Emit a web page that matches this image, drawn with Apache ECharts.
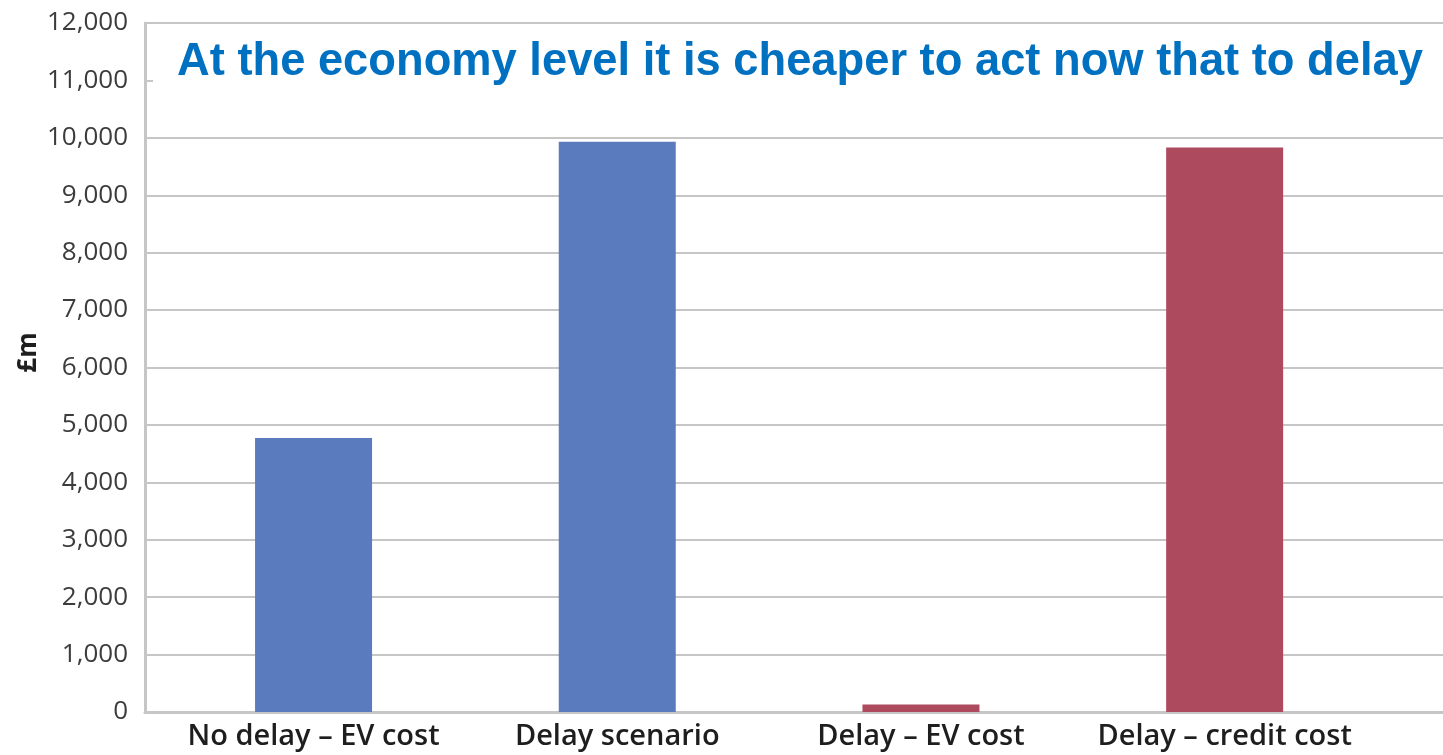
<!DOCTYPE html>
<html>
<head>
<meta charset="utf-8">
<script src="https://cdn.jsdelivr.net/npm/echarts@6/dist/echarts.min.js"></script>
<style>
  html, body { margin: 0; padding: 0; background: #fff; }
  #chart { width: 1443px; height: 755px; }
</style>
</head>
<body>
<div id="chart"></div>
<script>
const categories = ['No delay – EV cost', 'Delay scenario', 'Delay – EV cost', 'Delay – credit cost']
const costValues = [4770, 9930, 130, 9830]
const barColors = ['#5A7BBD', '#5A7BBD', '#AE4A5E', '#AE4A5E']
const yTicks = { min: 0, max: 12000, interval: 1000 }
const titleText = 'At the economy level it is cheaper to act now that to delay'

const chart = echarts.init(document.getElementById('chart'))
const gridLine = '#C6C6C6'

const option = {
  animation: false,
  backgroundColor: '#fff',
  title: {
    text: titleText,
    left: 150,
    top: 30,
    padding: [10, 30, 10, 27],
    z: 10,
    textStyle: {
      fontFamily: 'Liberation Sans',
      fontWeight: 'bold',
      fontSize: 45.3,
      color: '#0070C0',
    },
  },
  // white box behind the title, hides the 11,000 gridline like the original
  graphic: [
    {
      type: 'rect',
      left: 153,
      top: 30,
      z: 5,
      shape: { width: 1290, height: 65 },
      style: { fill: '#fff' },
    },
  ],
  grid: [
    // frame with gridlines (spans the whole cropped width)
    { left: 145, right: 0, top: 23, bottom: 43 },
    // band area for the bars
    { left: 161.7, right: 66.5, top: 23, bottom: 43 },
  ],
  xAxis: [
    {
      gridIndex: 0,
      type: 'value',
      min: 0,
      max: 1,
      axisLabel: { show: false },
      axisTick: { show: false },
      splitLine: { show: false },
      axisLine: { show: true, lineStyle: { color: gridLine, width: 3 } },
    },
    {
      gridIndex: 1,
      type: 'category',
      data: categories,
      axisLine: { show: false },
      axisTick: { show: false },
      axisLabel: {
        margin: 10,
        interval: 0,
        fontFamily: 'Open Sans',
        fontWeight: 600,
        fontSize: 29,
        color: '#1E1E1E',
      },
    },
  ],
  yAxis: [
    {
      gridIndex: 0,
      type: 'value',
      min: yTicks.min,
      max: yTicks.max,
      interval: yTicks.interval,
      name: '£m',
      nameLocation: 'middle',
      nameRotate: 90,
      nameGap: 103,
      nameMoveOverlap: false,
      nameTextStyle: {
        fontFamily: 'Open Sans',
        fontWeight: 'bold',
        fontSize: 26,
        color: '#1E1E1E',
        padding: [0, 0, 0, 30],
      },
      axisLine: { show: true, lineStyle: { color: gridLine, width: 3 } },
      axisTick: { show: false },
      axisLabel: {
        margin: 17,
        fontFamily: 'Open Sans',
        fontSize: 26,
        color: '#3C3C3C',
        formatter: v => v.toLocaleString('en-GB'),
      },
      splitLine: { show: true, lineStyle: { color: gridLine, width: 2 } },
    },
    {
      gridIndex: 1,
      type: 'value',
      min: yTicks.min,
      max: yTicks.max,
      show: false,
    },
  ],
  series: [
    {
      type: 'bar',
      xAxisIndex: 1,
      yAxisIndex: 1,
      barWidth: 117,
      data: costValues.map((v, i) => ({ value: v, itemStyle: { color: barColors[i] } })),
    },
  ],
}

chart.setOption(option)
</script>
</body>
</html>
